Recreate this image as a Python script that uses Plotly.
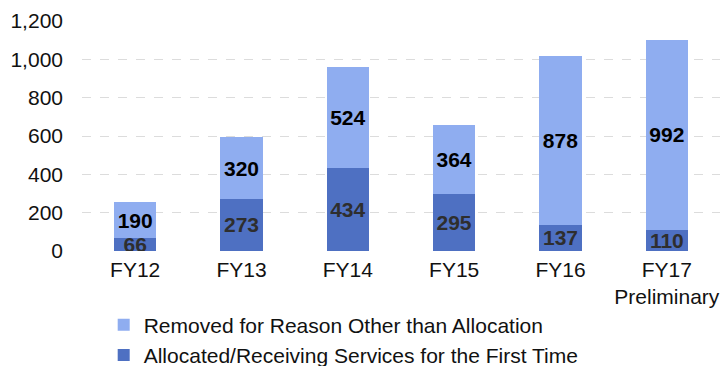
import plotly.graph_objects as go

# Fiscal years shown on the category axis
years = ["FY12", "FY13", "FY14", "FY15", "FY16", "FY17<br>Preliminary"]

# Stacked series (bottom first)
allocated = [66, 273, 434, 295, 137, 110]
removed = [190, 320, 524, 364, 878, 992]

y_ticks = [0, 200, 400, 600, 800, 1000, 1200]
y_tick_text = ["0", "200", "400", "600", "800", "1,000", "1,200"]

FONT = "Liberation Sans, Arial, sans-serif"
LIGHT = "#8FADF0"
DARK = "#4E70C2"

fig = go.Figure()

fig.add_trace(go.Bar(
    name="Allocated/Receiving Services for the First Time",
    x=years, y=allocated,
    marker=dict(color=DARK, line=dict(width=0)),
    text=[f"<b>{v}</b>" for v in allocated],
    textposition="inside", insidetextanchor="middle",
    textfont=dict(family=FONT, size=21, color="#2e2e2e"),
    hoverinfo="skip",
    legendrank=2,
))
fig.add_trace(go.Bar(
    name="Removed for Reason Other than Allocation",
    x=years, y=removed,
    marker=dict(color=LIGHT, line=dict(width=0)),
    text=[f"<b>{v}</b>" for v in removed],
    textposition="inside", insidetextanchor="middle",
    textfont=dict(family=FONT, size=21, color="#000000"),
    hoverinfo="skip",
    legendrank=1,
))

fig.update_layout(
    width=721, height=366,
    barmode="stack",
    bargap=0.6,
    margin=dict(l=82, r=1, t=21, b=115, autoexpand=False),
    paper_bgcolor="white",
    plot_bgcolor="white",
    font=dict(family=FONT, size=21, color="#111111"),
    uniformtext=dict(minsize=21, mode="show"),
    showlegend=True,
    legend=dict(
        orientation="v",
        x=0.034, xanchor="left",
        y=-0.233, yanchor="top",
        font=dict(family=FONT, size=21, color="#111111"),
        itemwidth=30,
        bgcolor="rgba(0,0,0,0)",
        traceorder="normal",
    ),
    xaxis=dict(
        showline=False, showgrid=False, zeroline=False,
        ticks="", tickfont=dict(family=FONT, size=21, color="#111111"),
        ticklabelstandoff=4,
    ),
    yaxis=dict(
        range=[0, 1200],
        tickvals=y_ticks, ticktext=y_tick_text,
        showline=False, zeroline=False,
        showgrid=True, gridcolor="#dcdcdc", gridwidth=1, griddash="dash",
        ticks="", tickfont=dict(family=FONT, size=21, color="#111111"),
        ticklabelstandoff=18,
    ),
)

fig.write_html("out.html")
